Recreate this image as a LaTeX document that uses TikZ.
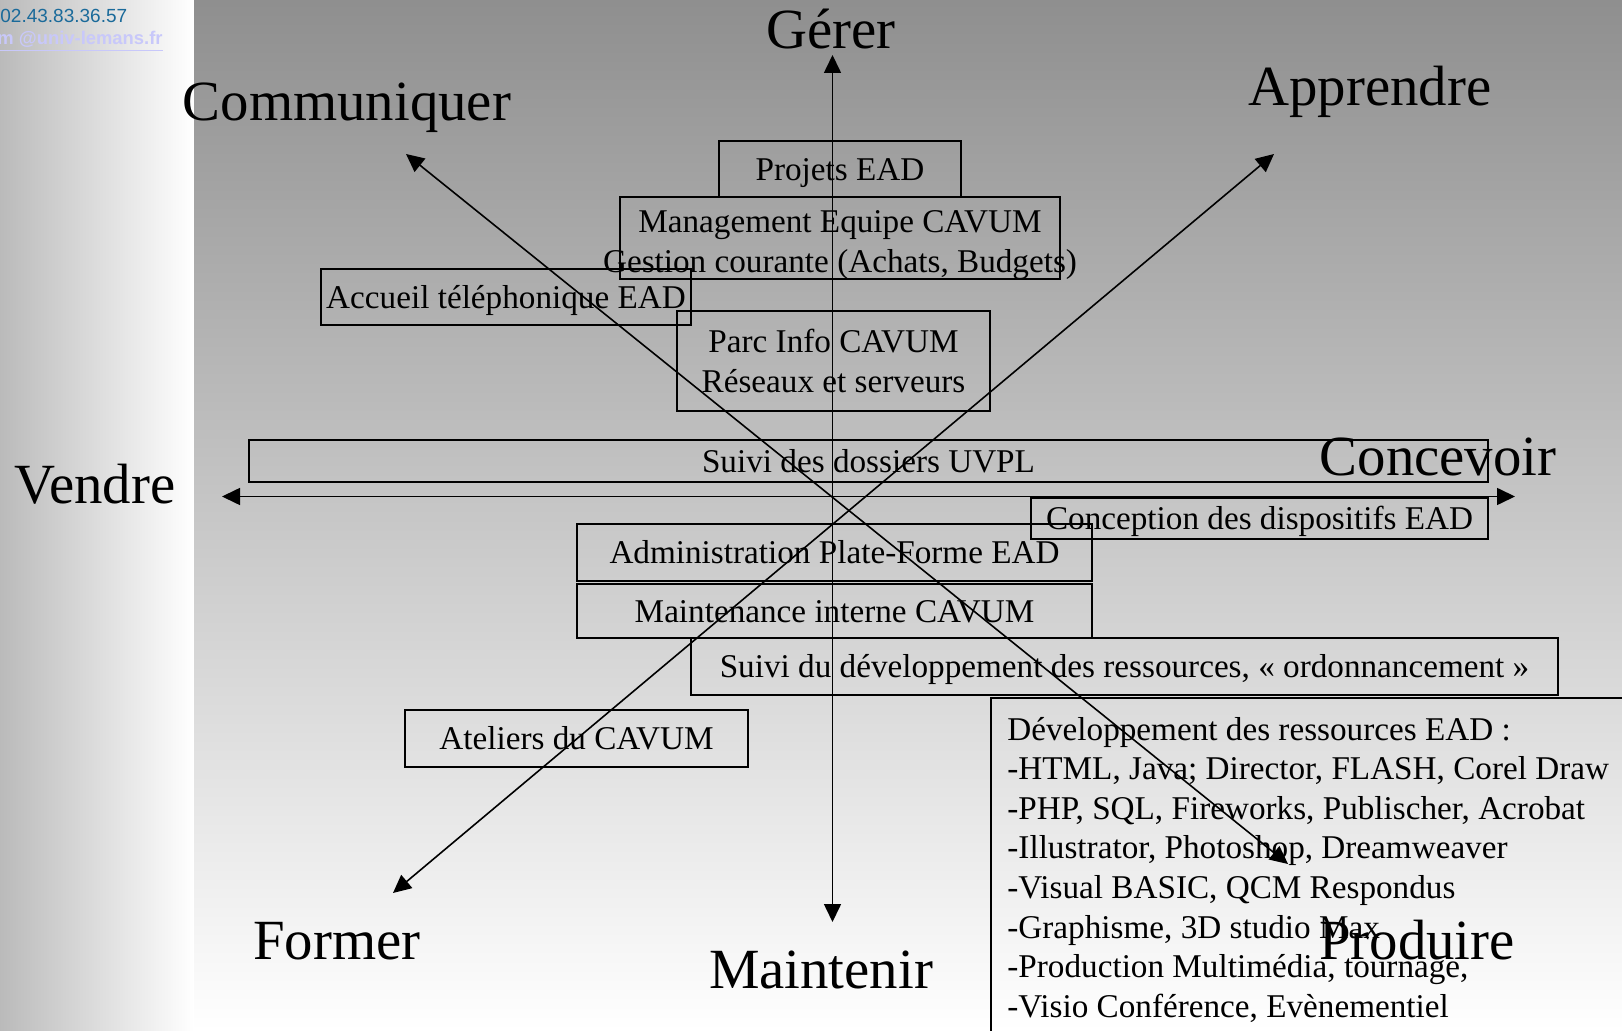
\documentclass[tikz,border=0pt]{standalone}
\usepackage{fontspec}
\setmainfont{Liberation Serif}
\newfontfamily\arialfont{Liberation Sans}
\usetikzlibrary{arrows.meta}
\definecolor{phoneblue}{RGB}{26,106,154}
\definecolor{maillav}{RGB}{200,200,250}

\begin{document}
\begin{tikzpicture}[x=0.5pt, y=-0.5pt,
  frame/.style={draw, line width=0.8pt, inner sep=0pt, align=center,
    font=\fontsize{16.6}{20}\selectfont},
  box/.style={frame, text height=11.3pt, text depth=0pt},
  biglabel/.style={anchor=base, inner sep=0pt, font=\fontsize{28.4}{34}\selectfont},
  devline/.style={anchor=base west, inner sep=0pt, font=\fontsize{16.6}{20}\selectfont},
  axis/.style={<->, line width=0.8pt, >={Triangle[length=9pt,width=8.5pt]}}]
\def \axisy {496.5}
\def \axisx {832.5}

\clip (0,0) rectangle (1622,1031);
% backgrounds
\shade[left color=black!27, middle color=black!5, right color=white] (0,0) rectangle (194,1031);
\shade[top color=black!44, middle color=black!17, bottom color=white] (194,0) rectangle (1622,1031);

% header
\node[anchor=base west, inner sep=0pt, text=phoneblue,
  font=\arialfont\fontsize{9.5}{11}\selectfont] (phone) at (0,23) {02.43.83.36.57};
\node[anchor=base west, inner sep=0pt, text=maillav,
  font=\arialfont\bfseries\fontsize{9.2}{11}\selectfont] (mail) at (-3,44.5) {\underline{m @univ-lemans.fr}};

% boxes
\node[box, minimum width=121pt, minimum height=28pt] (projets) at (840,169) {Projets EAD};
\node[frame, minimum width=220pt, minimum height=41pt] (mgmt) at (840,238) {};
\node[align=center, inner sep=0pt, font=\fontsize{16.6}{20}\selectfont] (mgmttxt) at (840,245)
  {Management Equipe CAVUM\\Gestion courante (Achats, Budgets)};
\node[box, minimum width=185pt, minimum height=28pt] (accueil) at (506,297) {Accueil téléphonique EAD};
\node[frame, minimum width=156.5pt, minimum height=50pt] (parc) at (833.5,361)
  {Parc Info CAVUM\\Réseaux et serveurs};
\node[box, minimum width=619.5pt, minimum height=21pt] (dossiers) at (868.5,461) {Suivi des dossiers UVPL};
\node[box, minimum width=228.5pt, minimum height=20.5pt] (conception) at (1259.5,518.5)
  {Conception des dispositifs EAD};
\node[box, minimum width=257.5pt, minimum height=28.5pt] (admin) at (834.5,552.5)
  {Administration Plate-Forme EAD};
\node[box, minimum width=257.5pt, minimum height=27pt] (maint) at (834.5,611) {Maintenance interne CAVUM};
\node[box, minimum width=433.5pt, minimum height=28.5pt] (suividev) at (1124.5,666.5)
  {Suivi du développement des ressources, «~ordonnancement~»};
\node[box, minimum width=171.5pt, minimum height=28.5pt] (ateliers) at (576.5,738.5) {Ateliers du CAVUM};
\node[frame, anchor=north west, minimum width=400pt, minimum height=250pt] (dev) at (990,697) {};

\foreach \t [count=\i] in {Développement des ressources EAD :,
  {-HTML, Java; Director, FLASH, Corel Draw},
  {-PHP, SQL, Fireworks, Publischer, Acrobat},
  {-Illustrator, Photoshop, Dreamweaver},
  {-Visual BASIC, QCM Respondus},
  {-Graphisme, 3D studio Max},
  {-Production Multimédia, tournage,},
  {-Visio Conférence, Evènementiel}}
  \node[devline] (dev\i) at (1007,{740+39.6*(\i-1)}) {\t};

% axes
\coordinate (tG) at (\axisx,55);
\coordinate (tM) at (\axisx,922);
\coordinate (tV) at (222,\axisy);
\coordinate (tC) at (1515,\axisy);
\coordinate (tCo) at (406,154);
\coordinate (tP) at (1288,864);
\coordinate (tA) at (1274,154);
\coordinate (tF) at (393,893);
\foreach \a/\b in {tG/tM, tV/tC, tCo/tP, tA/tF}
  \draw[axis] (\a) -- (\b);

% directions
\foreach \n/\x/\y/\t in {gerer/831/48.6/Gérer, communiquer/347/121/Communiquer,
  apprendre/1370/105.5/Apprendre, vendre/95/504/Vendre, concevoir/1438/476/Concevoir,
  former/337/959/Former, maintenir/821/988/Maintenir, produire/1417/959/Produire}
  \node[biglabel] (\n) at (\x,\y) {\t};
\end{tikzpicture}
\end{document}
